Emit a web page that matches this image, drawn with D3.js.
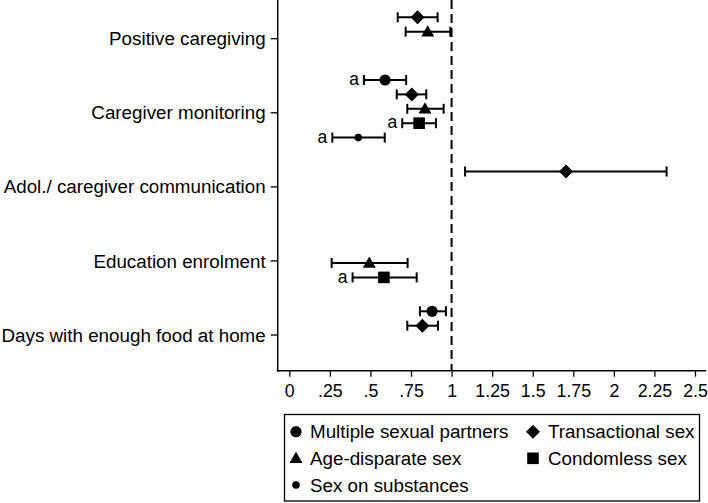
<!DOCTYPE html>
<html>
<head>
<meta charset="utf-8">
<script src="https://cdn.jsdelivr.net/npm/d3@7"></script>
<style>
  html, body { margin: 0; padding: 0; background: #fff; }
  svg { display: block; }
  text { font-family: "Liberation Sans", Arial, Helvetica, sans-serif; fill: #000; }
</style>
</head>
<body>
<svg id="chart" width="708" height="503"></svg>
<script>
// ---------------- DATA ----------------
const categories = [
  "Positive caregiving",
  "Caregiver monitoring",
  "Adol./ caregiver communication",
  "Education enrolment",
  "Days with enough food at home"
];
const seriesNames = [
  "Multiple sexual partners",
  "Transactional sex",
  "Age-disparate sex",
  "Condomless sex",
  "Sex on substances"
];
// estimates and 95% CIs per category (null = not shown)
const multipleEst = [null, 0.59, null, null, 0.88];
const multipleLo  = [null, 0.46, null, null, 0.805];
const multipleHi  = [null, 0.72, null, null, 0.965];
const multipleFlag = [false, true, false, false, false];

const transEst = [0.79, 0.755, 1.705, null, 0.82];
const transLo  = [0.668, 0.662, 1.083, null, 0.727];
const transHi  = [0.914, 0.844, 2.325, null, 0.916];
const transFlag = [false, false, false, false, false];

const ageEst = [0.853, 0.836, null, 0.493, null];
const ageLo  = [0.717, 0.727, null, 0.261, null];
const ageHi  = [0.992, 0.951, null, 0.729, null];
const ageFlag = [false, false, false, false, false];

const condEst = [null, 0.80, null, 0.583, null];
const condLo  = [null, 0.696, null, 0.39, null];
const condHi  = [null, 0.904, null, 0.785, null];
const condFlag = [false, true, false, true, false];

const subsEst = [null, 0.425, null, null, null];
const subsLo  = [null, 0.265, null, null, null];
const subsHi  = [null, 0.588, null, null, null];
const subsFlag = [false, true, false, false, false];

const xTickValues = [0, 0.25, 0.5, 0.75, 1, 1.25, 1.5, 1.75, 2, 2.25, 2.5];
const xTickLabels = ["0", ".25", ".5", ".75", "1", "1.25", "1.5", "1.75", "2", "2.25", "2.5"];
const refValue = 1;

// ---------------- SETUP ----------------
const svg = d3.select("#chart");
const plotLeft = 277.7, plotRight = 706, plotTop = 0, plotBottom = 370.7;
const labelFont = 18.8;

const x = d3.scaleLinear().domain([0, 2.5]).range([289.3, 695]);
const yTick = d3.scaleLinear().domain([0, categories.length - 1]).range([38.7, 335]);
const yPt = d3.scaleLinear().domain([0, categories.length - 1]).range([31.7, 340.1]);
const slotStep = 14.4;

const shapes = ["circle", "diamond", "triangle", "square", "smallcircle"];
const slots = [-2, -1, 0, 1, 2];

const seriesData = [
  {est: multipleEst, lo: multipleLo, hi: multipleHi, flag: multipleFlag},
  {est: transEst, lo: transLo, hi: transHi, flag: transFlag},
  {est: ageEst, lo: ageLo, hi: ageHi, flag: ageFlag},
  {est: condEst, lo: condLo, hi: condHi, flag: condFlag},
  {est: subsEst, lo: subsLo, hi: subsHi, flag: subsFlag}
];

function shapePath(shape) {
  switch (shape) {
    case "circle": return d3.symbol(d3.symbolCircle, Math.PI * 5.6 * 5.6)();
    case "smallcircle": return d3.symbol(d3.symbolCircle, Math.PI * 3.8 * 3.8)();
    case "diamond": return "M0,-7L7,0L0,7L-7,0Z";
    case "triangle": return "M0,-6.5L6.5,4.8L-6.5,4.8Z";
    case "square": return "M-5.8,-5.8H5.8V5.8H-5.8Z";
  }
}

// ---------------- AXES ----------------
svg.append("line")
  .attr("x1", plotLeft).attr("x2", plotLeft)
  .attr("y1", plotTop).attr("y2", plotBottom + 0.75)
  .attr("stroke", "#000").attr("stroke-width", 1.5);

const yAxisG = svg.append("g");
categories.forEach((c, i) => {
  const yy = yTick(i);
  yAxisG.append("line")
    .attr("x1", plotLeft - 7).attr("x2", plotLeft)
    .attr("y1", yy).attr("y2", yy)
    .attr("stroke", "#000").attr("stroke-width", 1.3);
  yAxisG.append("text")
    .attr("x", plotLeft - 12).attr("y", yy)
    .attr("dy", "0.35em")
    .attr("text-anchor", "end")
    .attr("font-size", labelFont)
    .text(c);
});

const xAxis = d3.axisBottom(x)
  .tickValues(xTickValues)
  .tickFormat((d, i) => xTickLabels[i])
  .tickSize(6)
  .tickPadding(8);
const xg = svg.append("g")
  .attr("transform", `translate(0,${plotBottom})`)
  .call(xAxis);
xg.select(".domain").remove();
xg.selectAll(".tick line").attr("stroke", "#000").attr("stroke-width", 1.3);
xg.selectAll(".tick text")
  .attr("font-size", 17.8)
  .attr("font-family", "'Liberation Sans', Arial, sans-serif")
  .attr("fill", "#000");
svg.append("line")
  .attr("x1", plotLeft - 0.75).attr("x2", plotRight)
  .attr("y1", plotBottom).attr("y2", plotBottom)
  .attr("stroke", "#000").attr("stroke-width", 1.5);

svg.append("line")
  .attr("x1", x(refValue)).attr("x2", x(refValue))
  .attr("y1", plotTop).attr("y2", plotBottom)
  .attr("stroke", "#000").attr("stroke-width", 2)
  .attr("stroke-dasharray", "9,5");

// ---------------- POINTS ----------------
const pts = svg.append("g");
seriesData.forEach((s, si) => {
  s.est.forEach((v, ci) => {
    if (v === null) return;
    const yy = yPt(ci) + slots[si] * slotStep;
    const g = pts.append("g");
    g.append("line")
      .attr("x1", x(s.lo[ci])).attr("x2", x(s.hi[ci]))
      .attr("y1", yy).attr("y2", yy)
      .attr("stroke", "#000").attr("stroke-width", 2);
    [s.lo[ci], s.hi[ci]].forEach(b => {
      g.append("line")
        .attr("x1", x(b)).attr("x2", x(b))
        .attr("y1", yy - 5).attr("y2", yy + 5)
        .attr("stroke", "#000").attr("stroke-width", 2);
    });
    g.append("path")
      .attr("d", shapePath(shapes[si]))
      .attr("transform", `translate(${x(v)},${yy})`)
      .attr("fill", "#000");
    if (s.flag[ci]) {
      g.append("text")
        .attr("x", x(s.lo[ci]) - 5).attr("y", yy)
        .attr("dy", "0.3em")
        .attr("text-anchor", "end")
        .attr("font-size", 17.5)
        .text("a");
    }
  });
});

// ---------------- LEGEND ----------------
const legend = svg.append("g");
legend.append("rect")
  .attr("x", 284.5).attr("y", 414.5)
  .attr("width", 415).attr("height", 86.5)
  .attr("fill", "#fff").attr("stroke", "#000").attr("stroke-width", 1.3);

const legendPos = [
  {col: 0, row: 0}, {col: 1, row: 0},
  {col: 0, row: 1}, {col: 1, row: 1},
  {col: 0, row: 2}
];
const colSym = [296, 533], colText = [310, 548];
const rowY = [431.7, 458.3, 485];
seriesNames.forEach((n, i) => {
  const p = legendPos[i];
  legend.append("path")
    .attr("d", shapePath(shapes[i]))
    .attr("transform", `translate(${colSym[p.col]},${rowY[p.row]})`)
    .attr("fill", "#000");
  legend.append("text")
    .attr("x", colText[p.col]).attr("y", rowY[p.row])
    .attr("dy", "0.35em")
    .attr("font-size", labelFont)
    .text(n);
});
</script>
</body>
</html>
